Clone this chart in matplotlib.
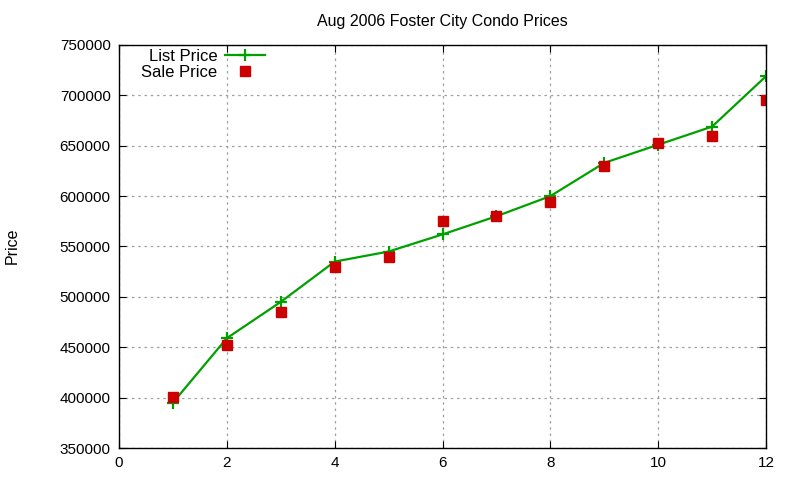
import matplotlib
matplotlib.use("Agg")
import matplotlib.pyplot as plt

plt.rcParams['font.family'] = ['Liberation Sans', 'DejaVu Sans']

# données
mois = [1, 2, 3, 4, 5, 6, 7, 8, 9, 10, 11, 12]
list_price = [395000, 459000, 495000, 535000, 545000, 562000, 580000,
              600000, 633000, 651000, 669000, 719000]
sale_price = [400500, 452000, 485000, 530000, 540000, 575000, 580000,
              594000, 630000, 653000, 660000, 695000]
x_ticks = [0, 2, 4, 6, 8, 10, 12]
y_ticks = [350000, 400000, 450000, 500000, 550000, 600000, 650000, 700000, 750000]

fig = plt.figure(figsize=(8, 4.8), dpi=100)
ax = fig.add_axes([119/800, 1-448/480, (766-119)/800, (448-45)/480])

ax.plot(mois, list_price, color='#00a000', lw=1.6, marker='+', ms=8,
        mew=1.6, label='List Price')
ax.plot(mois, sale_price, ls='none', marker='s', ms=6.5, color='#cc0000',
        label='Sale Price')

ax.set_xlim(0, 12)
ax.set_ylim(350000, 750000)
ax.set_xticks(x_ticks)
ax.set_yticks(y_ticks)
ax.tick_params(direction='in', top=True, right=True, labelsize=11, length=5, pad=6)
ax.grid(True, ls=(0, (2, 3)), color='#a0a0a0', lw=0.9)
for s in ax.spines.values():
    s.set_linewidth(1.0)

ax.set_title('Aug 2006 Foster City Condo Prices', fontsize=11.5, pad=14)
fig.text(12/800, 1-246/480, 'Price', rotation=90, fontsize=11.5, va='center', ha='center')

leg = ax.legend(loc='upper left', bbox_to_anchor=(0.016, 1.019), frameon=False,
                markerfirst=False, fontsize=12, handlelength=2.4,
                borderaxespad=0.3, labelspacing=0.05, handletextpad=0.5)
for t in leg.get_texts():
    t.set_ha('right')

fig.savefig('out.png', dpi=100)
